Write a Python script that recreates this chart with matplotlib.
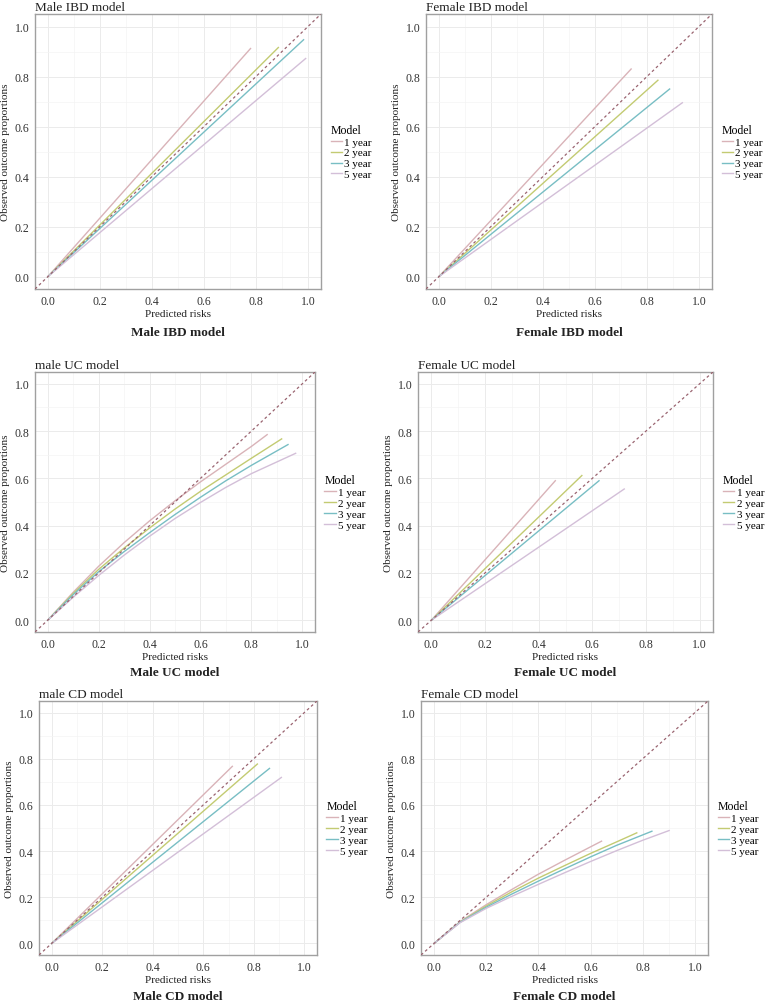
import numpy as np
import matplotlib
matplotlib.use('Agg')
import matplotlib.pyplot as plt

plt.rcParams['font.family'] = ['Liberation Serif', 'DejaVu Serif']

MODELS = ['1 year', '2 year', '3 year', '5 year']
COLORS = ['#D9B3B8', '#C3CB72', '#78BEC4', '#D3BFD8']

TITLES = ['Male IBD model', 'Female IBD model', 'male UC model',
          'Female UC model', 'male CD model', 'Female CD model']
CAPTIONS = ['Male IBD model', 'Female IBD model', 'Male UC model',
            'Female UC model', 'Male CD model', 'Female CD model']

# calibration curves: predicted risk (x) vs observed proportion (y)
male_ibd_x = [[0, 0.779], [0, 0.886], [0, 0.983], [0, 0.991]]
male_ibd_y = [[0, 0.912], [0, 0.916], [0, 0.947], [0, 0.872]]

female_ibd_x = [[0, 0.739], [0, 0.842], [0, 0.887], [0, 0.936]]
female_ibd_y = [[0, 0.830], [0, 0.785], [0, 0.750], [0, 0.695]]

male_uc_x = [[0, 0.1, 0.2, 0.3, 0.4, 0.5, 0.6, 0.7, 0.8, 0.862],
             [0, 0.1, 0.2, 0.3, 0.4, 0.5, 0.6, 0.7, 0.8, 0.919],
             [0, 0.1, 0.2, 0.3, 0.4, 0.5, 0.6, 0.7, 0.8, 0.944],
             [0, 0.1, 0.2, 0.3, 0.4, 0.5, 0.6, 0.7, 0.8, 0.974]]
male_uc_y = [[0, 0.118, 0.228, 0.328, 0.42, 0.505, 0.585, 0.66, 0.735, 0.785],
             [0, 0.113, 0.215, 0.305, 0.39, 0.47, 0.545, 0.615, 0.685, 0.767],
             [0, 0.108, 0.205, 0.29, 0.37, 0.447, 0.52, 0.59, 0.655, 0.743],
             [0, 0.097, 0.189, 0.275, 0.355, 0.43, 0.498, 0.562, 0.62, 0.706]]

female_uc_x = [[0, 0.462], [0, 0.561], [0, 0.625], [0, 0.719]]
female_uc_y = [[0, 0.590], [0, 0.612], [0, 0.590], [0, 0.555]]

male_cd_x = [[0, 0.715], [0, 0.814], [0, 0.862], [0, 0.909]]
male_cd_y = [[0, 0.767], [0, 0.777], [0, 0.758], [0, 0.719]]

female_cd_x = [[0, 0.1, 0.2, 0.3, 0.4, 0.5, 0.642],
               [0, 0.1, 0.2, 0.3, 0.4, 0.5, 0.6, 0.7, 0.777],
               [0, 0.1, 0.2, 0.3, 0.4, 0.5, 0.6, 0.7, 0.835],
               [0, 0.1, 0.2, 0.3, 0.4, 0.5, 0.6, 0.7, 0.8, 0.901]]
female_cd_y = [[0, 0.095, 0.168, 0.235, 0.30, 0.36, 0.443],
               [0, 0.093, 0.162, 0.225, 0.283, 0.337, 0.39, 0.44, 0.479],
               [0, 0.092, 0.157, 0.215, 0.27, 0.323, 0.375, 0.425, 0.486],
               [0, 0.09, 0.152, 0.205, 0.256, 0.306, 0.355, 0.402, 0.447, 0.489]]

PANEL_X = [male_ibd_x, female_ibd_x, male_uc_x, female_uc_x, male_cd_x, female_cd_x]
PANEL_Y = [male_ibd_y, female_ibd_y, male_uc_y, female_uc_y, male_cd_y, female_cd_y]

W, H = 766, 1004
# axes boxes in pixels: left, top, right, bottom
BOXES = [(35, 15, 321, 290), (426, 15, 712, 290),
         (35, 373, 315, 633), (418, 373, 713, 633),
         (39, 702, 317, 956), (421, 702, 708, 956)]
CAPTION_Y = [333, 333, 673, 673, 997, 997]

fig = plt.figure(figsize=(W / 100, H / 100), dpi=100)

for i, (l, t, r, b) in enumerate(BOXES):
    ax = fig.add_axes([l / W, 1 - b / H, (r - l) / W, (b - t) / H])
    ax.set_xlim(-0.05, 1.05)
    ax.set_ylim(-0.05, 1.05)
    ticks = np.arange(0, 1.01, 0.2)
    ax.set_xticks(ticks)
    ax.set_yticks(ticks)
    ax.set_xticks(np.arange(0.1, 1.0, 0.2), minor=True)
    ax.set_yticks(np.arange(0.1, 1.0, 0.2), minor=True)
    ax.grid(which='major', color='#ebebeb', linewidth=0.7)
    ax.grid(which='minor', color='#f4f4f4', linewidth=0.5)
    ax.set_axisbelow(True)
    ax.tick_params(which='both', length=0, labelsize=8.5, colors='#333333', pad=4)
    for s in ax.spines.values():
        s.set_color('#a0a0a0')
        s.set_linewidth(1.0)

    ax.plot([-0.05, 1.05], [-0.05, 1.05], linestyle=(0, (2.2, 2.2)),
            color='#9a6470', linewidth=0.9, zorder=3)
    for k, name in enumerate(MODELS):
        ax.plot(PANEL_X[i][k], PANEL_Y[i][k], color=COLORS[k],
                linewidth=1.0, label=name, zorder=2)

    ax.set_title(TITLES[i], loc='left', fontsize=9.5, pad=3, color='#222222')
    ax.set_xlabel('Predicted risks', fontsize=8, labelpad=2, color='#222222')
    ax.set_ylabel('Observed outcome proportions', fontsize=8, labelpad=3, color='#222222')

    leg = ax.legend(loc='center left', bbox_to_anchor=(1.01, 0.5), frameon=False,
                    title='Model', fontsize=8, title_fontsize=8.5,
                    handlelength=1.0, handletextpad=0.25, labelspacing=0.1,
                    borderaxespad=0.2)
    leg._legend_box.align = 'left'

    fig.text((l + r) / 2 / W, 1 - CAPTION_Y[i] / H, CAPTIONS[i],
             ha='center', va='center', fontsize=9.5, fontweight='bold',
             color='#222222')

fig.savefig('out.png', dpi=100)
